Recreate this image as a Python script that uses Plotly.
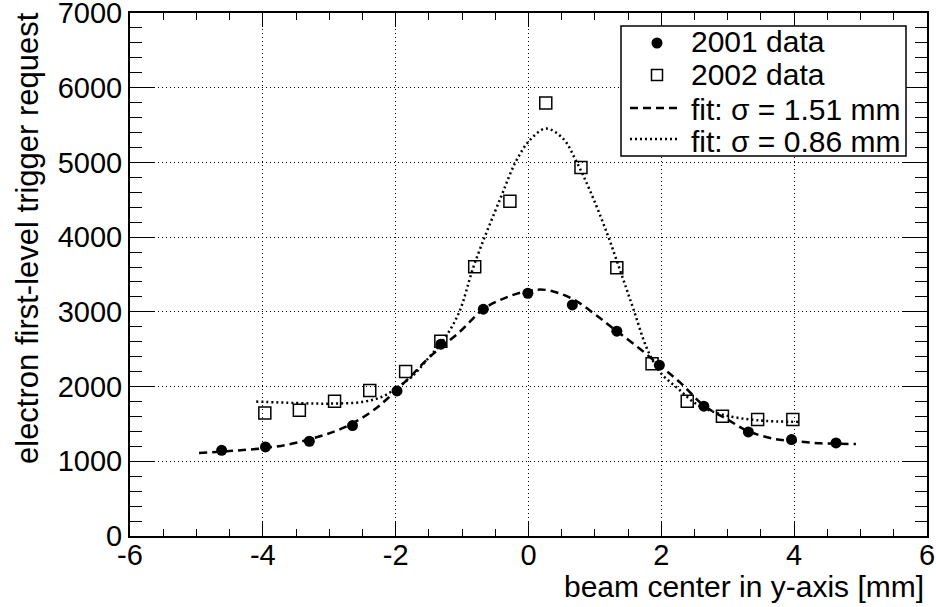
import plotly.graph_objects as go

# 2001 data (filled circles)
x_2001 = [-4.62, -3.96, -3.30, -2.65, -1.98, -1.32, -0.68, -0.01, 0.66, 1.33, 1.97, 2.64, 3.31, 3.96, 4.63]
y_2001 = [1147, 1192, 1268, 1478, 1942, 2567, 3036, 3249, 3093, 2741, 2286, 1737, 1393, 1290, 1246]

# 2002 data (open squares)
x_2002 = [-3.97, -3.45, -2.92, -2.39, -1.85, -1.32, -0.81, -0.28, 0.26, 0.79, 1.33, 1.86, 2.39, 2.92, 3.45, 3.98]
y_2002 = [1647, 1683, 1803, 1946, 2201, 2607, 3604, 4480, 5796, 4933, 3591, 2304, 1804, 1603, 1558, 1558]

# fit curves
x_fit1 = [-4.96, -4.45, -3.95, -3.55, -3.14, -2.79, -2.39, -2.09, -1.78, -1.48, -1.03, -0.68,
          -0.34, -0.01, 0.27, 0.67, 1.03, 1.33, 1.69, 1.99, 2.29, 2.64, 3.0, 3.31, 3.7, 4.0, 4.4, 4.93]
y_fit1 = [1112, 1140, 1180, 1237, 1335, 1446, 1647, 1866, 2134, 2402, 2737, 3036,
          3191, 3280, 3293, 3170, 2947, 2741, 2496, 2272, 2049, 1746, 1558, 1402, 1300, 1270, 1240, 1232]

x_fit2 = [-4.1, -3.5, -3.0, -2.5, -2.2, -1.99, -1.73, -1.53, -1.28, -1.05, -0.81, -0.41, -0.19, 0.02,
          0.26, 0.52, 0.72, 0.92, 1.18, 1.40, 1.58, 1.79, 1.99, 2.24, 2.54, 2.92, 3.45, 4.1]
y_fit2 = [1799, 1780, 1772, 1795, 1866, 1978, 2156, 2357, 2625, 2982, 3650, 4547, 5013, 5298,
          5453, 5320, 5013, 4635, 4058, 3502, 3036, 2496, 2183, 1982, 1760, 1625, 1549, 1527]

x_ticks = [-6, -4, -2, 0, 2, 4, 6]
x_ticktext = ["-6", "-4", "-2", "0", "2", "4", "6"]

legend_labels = ["2001 data", "2002 data", "fit: σ = 1.51 mm", "fit: σ = 0.86 mm"]

# plot frame in pixels
W, H = 936, 607
L, R, T, B = 130, 927, 13, 536
FONT = "Liberation Sans, Arial, sans-serif"
FS = 29


def px(x):
    return (x - L) / (R - L)


def py(y):
    return (B - y) / (B - T)


fig = go.Figure()

fig.add_trace(go.Scatter(
    x=x_fit1, y=y_fit1, mode="lines", line_shape="spline",
    line=dict(color="black", width=2.5, dash="8px,5px"), hoverinfo="skip",
))
fig.add_trace(go.Scatter(
    x=x_fit2, y=y_fit2, mode="lines", line_shape="spline",
    line=dict(color="black", width=2.5, dash="2px,3px"), hoverinfo="skip",
))
fig.add_trace(go.Scatter(
    x=x_2001, y=y_2001, mode="markers", name="2001 data",
    marker=dict(symbol="circle", size=11, color="black"),
))
fig.add_trace(go.Scatter(
    x=x_2002, y=y_2002, mode="markers", name="2002 data",
    marker=dict(symbol="square-open", size=12, color="black", line=dict(width=1.5)),
))

# hand-drawn legend box (ROOT style)
shapes = [
    dict(type="rect", xref="paper", yref="paper",
         x0=px(621), x1=px(906), y0=py(156), y1=py(26),
         fillcolor="white", line=dict(color="black", width=1.5), layer="above"),
    dict(type="circle", xref="paper", yref="paper",
         x0=px(657 - 5.5), x1=px(657 + 5.5), y0=py(43 + 5.5), y1=py(43 - 5.5),
         fillcolor="black", line=dict(color="black", width=0), layer="above"),
    dict(type="rect", xref="paper", yref="paper",
         x0=px(657 - 5.5), x1=px(657 + 5.5), y0=py(75 + 5.5), y1=py(75 - 5.5),
         fillcolor="white", line=dict(color="black", width=1.5), layer="above"),
    dict(type="line", xref="paper", yref="paper",
         x0=px(630), x1=px(678), y0=py(108), y1=py(108),
         line=dict(color="black", width=2.5, dash="8px,5px"), layer="above"),
    dict(type="line", xref="paper", yref="paper",
         x0=px(630), x1=px(678), y0=py(139), y1=py(139),
         line=dict(color="black", width=2.5, dash="2px,3px"), layer="above"),
]

annotations = []
for lab, yy in zip(legend_labels, [42, 75, 109, 141]):
    annotations.append(dict(
        text=lab, xref="paper", yref="paper", x=px(689), y=py(yy),
        xanchor="left", yanchor="middle", showarrow=False,
        font=dict(size=30, color="black", family=FONT),
    ))

# axis titles, ROOT aligns them at the axis end
annotations.append(dict(
    text="beam center in y-axis [mm]", xref="paper", yref="paper",
    x=px(926), y=py(586), xanchor="right", yanchor="middle", showarrow=False,
    font=dict(size=30, color="black", family=FONT),
))
annotations.append(dict(
    text="electron first-level trigger request", xref="paper", yref="paper",
    x=px(27), y=py(10), xanchor="center", yanchor="top", textangle=-90, showarrow=False,
    font=dict(size=31, color="black", family=FONT),
))

axis_common = dict(
    showline=True, linecolor="black", linewidth=2, mirror="allticks",
    ticks="inside", tickcolor="black", tickwidth=1,
    showgrid=True, gridcolor="black", gridwidth=1, griddash="1px,3px",
    zeroline=False, tickfont=dict(size=FS, color="black", family=FONT),
    ticklabeloverflow="allow", automargin=False,
)

fig.update_xaxes(
    **axis_common, range=[-6, 6], tickvals=x_ticks, ticktext=x_ticktext, ticklen=14,
    ticklabelstandoff=-8,
    minor=dict(dtick=0.5, ticklen=7, ticks="inside", tickcolor="black", showgrid=False),
)
fig.update_yaxes(
    **axis_common, range=[0, 7000], dtick=1000, tick0=0, ticklen=24,
    minor=dict(dtick=200, ticklen=12, ticks="inside", tickcolor="black", showgrid=False),
)

fig.update_layout(
    width=W, height=H,
    template="none",
    showlegend=False,
    paper_bgcolor="white",
    plot_bgcolor="white",
    margin=dict(l=L, r=W - R, t=T, b=H - B, pad=0),
    font=dict(family=FONT, size=FS, color="black"),
    shapes=shapes,
    annotations=annotations,
)

# drop the browser's default body margin so the figure sits at the window corner
fig.write_html(
    "out.html",
    config={"displayModeBar": False},
    post_script="document.body.style.margin='0px';",
)
